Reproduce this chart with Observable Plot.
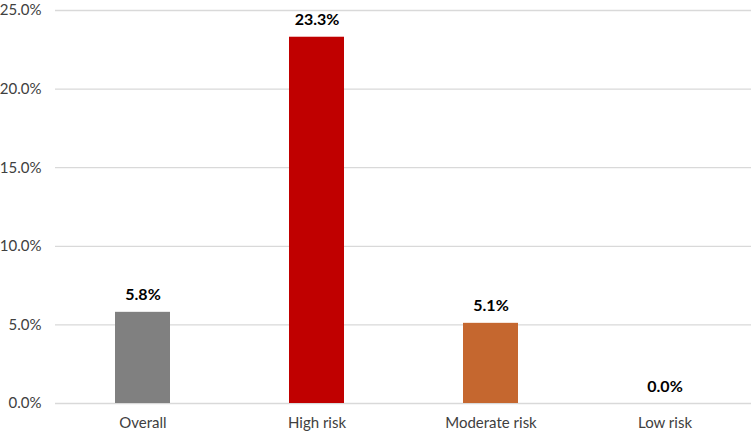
<!DOCTYPE html>
<html>
<head>
<meta charset="utf-8">
<script src="https://cdn.jsdelivr.net/npm/d3@7"></script>
<script src="https://cdn.jsdelivr.net/npm/@observablehq/plot@0.6"></script>
<style>
  html, body { margin: 0; padding: 0; background: #fff; }
  #chart svg { display: block; overflow: visible; }
</style>
</head>
<body>
<div id="chart"></div>
<script>
const categories = ["Overall", "High risk", "Moderate risk", "Low risk"];
const values = [5.8, 23.3, 5.1, 0.0];
const colors = ["#808080", "#C00000", "#C5672F", "#A5A5A5"];
const yTicks = [0, 5, 10, 15, 20, 25];

const data = categories.map((c, i) => ({category: c, value: values[i], color: colors[i]}));

const chart = Plot.plot({
  width: 751,
  height: 435,
  marginLeft: 55,
  marginRight: 0,
  marginTop: 10,
  marginBottom: 32,
  style: {fontFamily: "Lato, 'Open Sans', sans-serif", fontSize: "15px", color: "#404040", background: "#fff", overflow: "visible"},
  x: {domain: categories, paddingInner: 0.684, paddingOuter: 0.342, label: null, tickSize: 0, tickPadding: 14},
  y: {domain: [0, 25], ticks: yTicks, tickFormat: d => d.toFixed(1) + "%", label: null, tickSize: 0, tickPadding: 14},
  marks: [
    Plot.gridY(yTicks, {stroke: "#d9d9d9", strokeOpacity: 1, strokeWidth: 1.3}),
    Plot.barY(data, {x: "category", y: "value", fill: "color"}),
    Plot.text(data, {x: "category", y: "value", text: d => d.value.toFixed(1) + "%", dy: -17, fontWeight: "bold", fontSize: 16, fill: "#000"})
  ]
});
document.getElementById("chart").appendChild(chart);
</script>
</body>
</html>
